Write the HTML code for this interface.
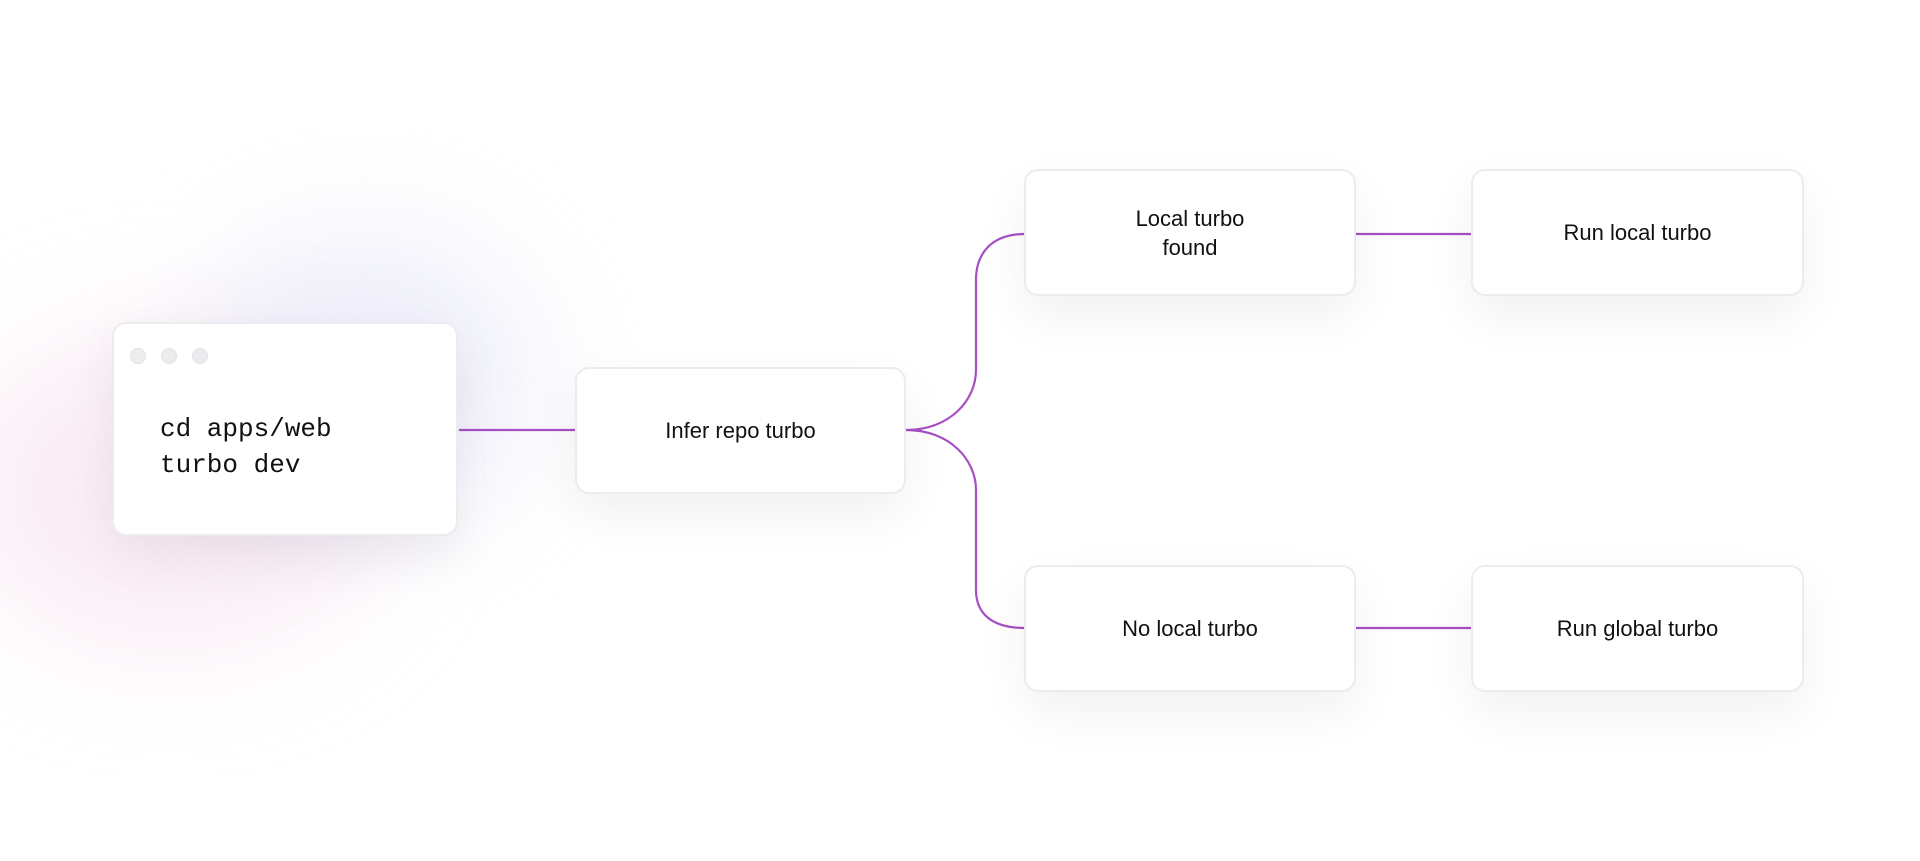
<!DOCTYPE html>
<html><head><style>
body{margin:0;width:1920px;height:861px;background:#fff;position:relative;overflow:hidden;font-family:"Liberation Sans",sans-serif;}
.glow{position:absolute;border-radius:50%;filter:blur(60px);}
.box{position:absolute;background:#fff;border:2px solid #ececef;border-radius:14px;box-shadow:0 20px 50px rgba(0,0,0,0.06);display:flex;align-items:center;justify-content:center;text-align:center;font-size:22px;color:#111;line-height:29px;box-sizing:border-box;}
.dot{position:absolute;width:16px;height:16px;border-radius:50%;background:#ececef;border:1px solid #e2e2e6;box-sizing:border-box;}
</style></head><body>
<div class="glow" style="left:-40px;top:330px;width:420px;height:320px;background:rgba(240,200,225,0.35)"></div>
<div class="glow" style="left:200px;top:240px;width:330px;height:280px;background:rgba(215,215,245,0.45)"></div>
<svg width="1920" height="861" style="position:absolute;left:0;top:0">
<g fill="none" stroke="#a64fc4" stroke-width="2.2">
<line x1="459" y1="430" x2="575" y2="430"/>
<path d="M906 430 C950 430 976 400 976 370 L976 280 C976 255 990 234 1025 234"/>
<path d="M906 430 C950 430 976 460 976 490 L976 590 C976 612 990 628 1025 628"/>
<line x1="1356" y1="234" x2="1472" y2="234"/>
<line x1="1356" y1="628" x2="1472" y2="628"/>
</g></svg>
<div class="box" style="left:112px;top:322px;width:346px;height:214px;display:block;text-align:left">
<div style="position:absolute;left:46px;top:87px;font-family:'Liberation Mono',monospace;font-size:26px;line-height:36px;color:#111">cd apps/web<br>turbo dev</div>
</div>
<div class="dot" style="left:130px;top:348px"></div>
<div class="dot" style="left:161px;top:348px"></div>
<div class="dot" style="left:192px;top:348px"></div>
<div class="box" style="left:575px;top:367px;width:331px;height:127px">Infer repo turbo</div>
<div class="box" style="left:1024px;top:169px;width:332px;height:127px">Local turbo<br>found</div>
<div class="box" style="left:1471px;top:169px;width:333px;height:127px">Run local turbo</div>
<div class="box" style="left:1024px;top:565px;width:332px;height:127px">No local turbo</div>
<div class="box" style="left:1471px;top:565px;width:333px;height:127px">Run global turbo</div>
</body></html>
